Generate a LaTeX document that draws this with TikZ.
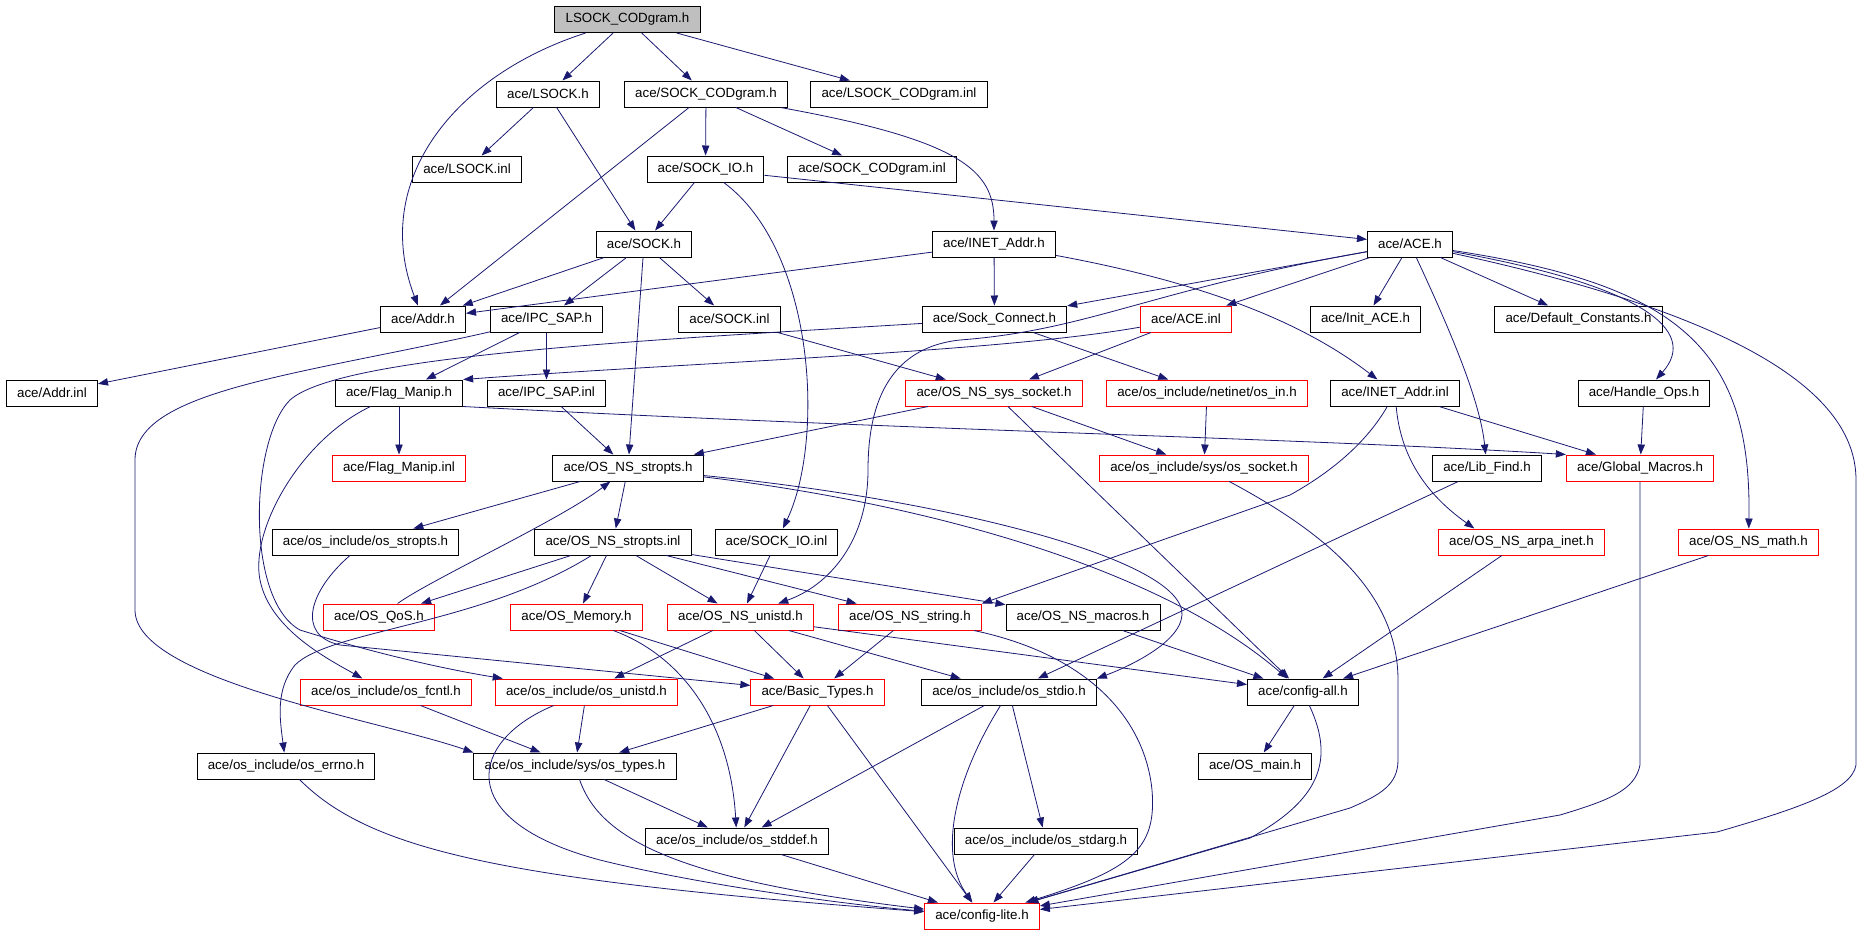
\documentclass[tikz,border=0pt]{standalone}
\usepackage{fontspec}
\setmainfont{Liberation Sans}
\usetikzlibrary{arrows.meta}

\begin{document}
\begin{tikzpicture}[
        >={Triangle[length=7.5pt,width=5.5pt]},
        % one unit is one pixel of the include graph, y runs down
        x=0.75pt, y=-0.75pt,
        font=\fontsize{10}{12}\selectfont
    ]
        % Define custom colors matching the doxygen graph
        \definecolor{edgeblue}{RGB}{25,25,112}
        \definecolor{rootgray}{RGB}{191,191,191}
        \definecolor{incred}{RGB}{255,0,0}

        % Define node styles
        \tikzstyle{file}=[
            draw,
            line width=0.75pt,
            inner xsep=8pt,
            inner ysep=0pt,
            minimum height=19.5pt
        ]
        \tikzstyle{redfile}=[file, draw=incred]
        \tikzstyle{dep}=[->, draw=edgeblue, line width=0.6pt]

        \useasboundingbox (0,0) rectangle (1875,933);

        % --- Rank 0 (the file itself) ---
        \node[file, fill=rootgray] (root) at (627.5,19.5) {LSOCK\_CODgram.h};

        % --- Rank 1 ---
        \node[file] (LSOCKh) at (548,94) {ace/LSOCK.h};
        \node[file] (SCh) at (706,94) {ace/SOCK\_CODgram.h};
        \node[file] (LSCinl) at (899,94) {ace/LSOCK\_CODgram.inl};

        % --- Rank 2 ---
        \node[file] (LSOCKinl) at (467,169) {ace/LSOCK.inl};
        \node[file] (SIOh) at (705.5,169) {ace/SOCK\_IO.h};
        \node[file] (SCinl) at (872,169) {ace/SOCK\_CODgram.inl};

        % --- Rank 3 ---
        \node[file] (SOCKh) at (644,244) {ace/SOCK.h};
        \node[file] (INETh) at (994,244) {ace/INET\_Addr.h};
        \node[file] (ACEh) at (1410,244) {ace/ACE.h};

        % --- Rank 4 ---
        \node[file] (Addrh) at (423,319) {ace/Addr.h};
        \node[file] (IPCh) at (546.5,319) {ace/IPC\_SAP.h};
        \node[file] (SOCKinl) at (729.5,319) {ace/SOCK.inl};
        \node[file] (SockConn) at (994.5,319) {ace/Sock\_Connect.h};
        \node[redfile] (ACEinl) at (1186,319) {ace/ACE.inl};
        \node[file] (InitACE) at (1365.5,319) {ace/Init\_ACE.h};
        \node[file] (DefConst) at (1578.5,319) {ace/Default\_Constants.h};

        % --- Rank 5 ---
        \node[file] (Addrinl) at (52,393) {ace/Addr.inl};
        \node[file] (FlagManip) at (399,393) {ace/Flag\_Manip.h};
        \node[file] (IPCinl) at (546.5,393) {ace/IPC\_SAP.inl};
        \node[redfile] (sysSocket) at (994,393) {ace/OS\_NS\_sys\_socket.h};
        \node[redfile] (osin) at (1207,393) {ace/os\_include/netinet/os\_in.h};
        \node[file] (INETinl) at (1395,393) {ace/INET\_Addr.inl};
        \node[file] (HandleOps) at (1644,393) {ace/Handle\_Ops.h};

        % --- Rank 6 ---
        \node[redfile] (FlagInl) at (399,468) {ace/Flag\_Manip.inl};
        \node[file] (stropts) at (628,468) {ace/OS\_NS\_stropts.h};
        \node[redfile] (ossocket) at (1204,468) {ace/os\_include/sys/os\_socket.h};
        \node[file] (LibFind) at (1487,468) {ace/Lib\_Find.h};
        \node[redfile] (GlobalMacros) at (1640,468) {ace/Global\_Macros.h};

        % --- Rank 7 ---
        \node[file] (osstropts) at (365.5,542) {ace/os\_include/os\_stropts.h};
        \node[file] (stroptsinl) at (613,542) {ace/OS\_NS\_stropts.inl};
        \node[file] (SIOinl) at (776.5,542) {ace/SOCK\_IO.inl};
        \node[redfile] (arpa) at (1521.5,542) {ace/OS\_NS\_arpa\_inet.h};
        \node[redfile] (math) at (1748.5,542) {ace/OS\_NS\_math.h};

        % --- Rank 8 ---
        \node[redfile] (QoS) at (379,617) {ace/OS\_QoS.h};
        \node[redfile] (Memory) at (576.5,617) {ace/OS\_Memory.h};
        \node[redfile] (unistd) at (740.5,617) {ace/OS\_NS\_unistd.h};
        \node[redfile] (string) at (910,617) {ace/OS\_NS\_string.h};
        \node[file] (macros) at (1083,617) {ace/OS\_NS\_macros.h};

        % --- Rank 9 ---
        \node[redfile] (fcntl) at (386,692) {ace/os\_include/os\_fcntl.h};
        \node[redfile] (osunistd) at (586.5,692) {ace/os\_include/os\_unistd.h};
        \node[redfile] (BasicTypes) at (817.5,692) {ace/Basic\_Types.h};
        \node[file] (stdio) at (1009,692) {ace/os\_include/os\_stdio.h};
        \node[file] (configall) at (1303,692) {ace/config-all.h};

        % --- Rank 10 ---
        \node[file] (errno) at (286,766) {ace/os\_include/os\_errno.h};
        \node[file] (ostypes) at (575,766) {ace/os\_include/sys/os\_types.h};
        \node[file] (OSmain) at (1255,766) {ace/OS\_main.h};

        % --- Rank 11 ---
        \node[file] (stddef) at (737,841) {ace/os\_include/os\_stddef.h};
        \node[file] (stdarg) at (1046,841) {ace/os\_include/os\_stdarg.h};

        % --- Rank 12 ---
        \node[redfile] (configlite) at (982,916) {ace/config-lite.h};

        % --- Includes of LSOCK_CODgram.h ---
        \draw[dep] (root) .. controls (455,75) and (370,180) .. (Addrh);
        \draw[dep] (root) -- (LSOCKh);
        \draw[dep] (root) -- (SCh);
        \draw[dep] (root) -- (LSCinl);

        % --- ace/LSOCK.h and ace/SOCK_CODgram.h ---
        \draw[dep] (LSOCKh) -- (LSOCKinl);
        \draw[dep] (LSOCKh) -- (SOCKh);
        \draw[dep] (SCh) -- (Addrh);
        \draw[dep] (SCh) -- (SIOh);
        \draw[dep] (SCh) -- (SCinl);
        \draw[dep] (SCh) .. controls (960,140) and (994,170) .. (INETh);

        % --- ace/SOCK_IO.h ---
        \draw[dep] (SIOh) -- (SOCKh);
        \draw[dep] (SIOh) -- (ACEh);
        \draw[dep] (SIOh) .. controls (815,250) and (825,440) .. (SIOinl);

        % --- ace/SOCK.h ---
        \draw[dep] (SOCKh) -- (Addrh);
        \draw[dep] (SOCKh) -- (IPCh);
        \draw[dep] (SOCKh) -- (SOCKinl);
        \draw[dep] (SOCKh) -- (stropts);

        % --- ace/INET_Addr.h ---
        \draw[dep] (INETh) -- (Addrh);
        \draw[dep] (INETh) -- (SockConn);
        \draw[dep] (INETh) .. controls (1200,282) and (1300,320) .. (INETinl);

        % --- ace/ACE.h ---
        \draw[dep] (ACEh) -- (SockConn);
        \draw[dep] (ACEh) -- (ACEinl);
        \draw[dep] (ACEh) -- (InitACE);
        \draw[dep] (ACEh) -- (DefConst);
        \draw[dep] (ACEh) .. controls (1450,330) and (1480,400) .. (LibFind);
        \draw[dep] (ACEh) .. controls (1640,285) and (1700,330) .. (HandleOps);
        \draw[dep] (ACEh) .. controls (1680,285) and (1752,350) .. (math);
        \draw[dep] (ACEh) .. controls (1760,320) and (1856,400) .. (1856,480)
            -- (1856,765) .. controls (1852,790) and (1800,808) .. (1717,832) -- (configlite);
        \draw[dep] (ACEh) .. controls (1150,290) and (1090,330) .. (960,340)
            .. controls (885,348) and (868,410) .. (868,470)
            .. controls (868,540) and (830,585) .. (unistd);

        % --- Rank 4 sources ---
        \draw[dep] (Addrh) -- (Addrinl);
        \draw[dep] (IPCh) -- (FlagManip);
        \draw[dep] (IPCh) -- (IPCinl);
        \draw[dep] (IPCh) .. controls (300,375) and (135,390) .. (135,460)
            -- (135,610) .. controls (135,680) and (380,720) .. (ostypes.north west);
        \draw[dep] (SOCKinl) -- (sysSocket);
        \draw[dep] (SockConn) -- (osin);
        \draw[dep] (SockConn) .. controls (650,340) and (340,355) .. (290,400)
            .. controls (250,440) and (245,600) .. (300,630)
            .. controls (380,655) and (450,670) .. (osunistd);
        \draw[dep] (ACEinl) -- (sysSocket);
        \draw[dep] (ACEinl) .. controls (1000,352) and (700,362) .. (FlagManip.north east);

        % --- Rank 5 sources ---
        \draw[dep] (FlagManip) -- (FlagInl);
        \draw[dep] (FlagManip.south east) .. controls (900,430) and (1300,438) .. (GlobalMacros.north west);
        \draw[dep] (FlagManip) .. controls (300,440) and (250,530) .. (260,580)
            .. controls (270,630) and (330,660) .. (fcntl);
        \draw[dep] (IPCinl) -- (stropts);
        \draw[dep] (sysSocket) -- (stropts);
        \draw[dep] (sysSocket) -- (ossocket);
        \draw[dep] (sysSocket) -- (configall);
        \draw[dep] (osin) -- (ossocket);
        \draw[dep] (INETinl) -- (GlobalMacros);
        \draw[dep] (INETinl) .. controls (1400,450) and (1420,490) .. (arpa.164);
        \draw[dep] (INETinl) .. controls (1368,440) and (1335,470) .. (1290,495) -- (string.north east);
        \draw[dep] (HandleOps) -- (GlobalMacros);

        % --- Rank 6 sources ---
        \draw[dep] (LibFind) -- (stdio);
        \draw[dep] (GlobalMacros) -- (1640,765) .. controls (1635,790) and (1610,800) .. (1560,815) -- (configlite);
        \draw[dep] (stropts) -- (osstropts);
        \draw[dep] (stropts) -- (stroptsinl);
        \draw[dep] (stropts) .. controls (900,500) and (1150,560) .. (configall);
        \draw[dep] (stropts) .. controls (950,500) and (1185,560) .. (1182,615)
            .. controls (1180,645) and (1120,670) .. (stdio.north east);
        \draw[dep] (ossocket) .. controls (1320,530) and (1398,590) .. (1398,680)
            -- (1398,760) .. controls (1398,785) and (1380,795) .. (1350,808) -- (configlite);

        % --- Rank 7 sources ---
        \draw[dep] (stroptsinl) -- (QoS);
        \draw[dep] (stroptsinl) -- (Memory);
        \draw[dep] (stroptsinl) -- (unistd);
        \draw[dep] (stroptsinl) -- (string);
        \draw[dep] (stroptsinl) -- (macros);
        \draw[dep] (stroptsinl) .. controls (480,625) and (330,630) .. (295,665)
            .. controls (275,690) and (280,720) .. (errno);
        \draw[dep] (osstropts) .. controls (310,590) and (295,635) .. (340,645) -- (BasicTypes);
        \draw[dep] (SIOinl) -- (unistd);
        \draw[dep] (arpa) -- (configall);
        \draw[dep] (math) -- (configall);

        % --- Rank 8 sources ---
        \draw[dep] (QoS) .. controls (430,580) and (560,520) .. (stropts);
        \draw[dep] (Memory) -- (BasicTypes);
        \draw[dep] (Memory) .. controls (680,655) and (730,720) .. (stddef);
        \draw[dep] (unistd) -- (osunistd);
        \draw[dep] (unistd) -- (BasicTypes);
        \draw[dep] (unistd) -- (stdio);
        \draw[dep] (unistd) -- (configall);
        \draw[dep] (string) -- (BasicTypes);
        \draw[dep] (string) .. controls (1090,655) and (1145,720) .. (1152,790)
            .. controls (1157,850) and (1130,870) .. (configlite);
        \draw[dep] (macros) -- (configall);

        % --- Rank 9 sources ---
        \draw[dep] (fcntl) -- (ostypes);
        \draw[dep] (osunistd) -- (ostypes);
        \draw[dep] (osunistd) .. controls (470,740) and (450,820) .. (600,860)
            .. controls (700,885) and (850,905) .. (configlite);
        \draw[dep] (BasicTypes) -- (ostypes);
        \draw[dep] (BasicTypes) -- (stddef);
        \draw[dep] (BasicTypes) -- (configlite);
        \draw[dep] (stdio) -- (stddef);
        \draw[dep] (stdio) .. controls (960,770) and (935,850) .. (configlite);
        \draw[dep] (stdio) -- (stdarg);
        \draw[dep] (configall) -- (OSmain);
        \draw[dep] (configall) .. controls (1335,760) and (1320,800) .. (1250,838) -- (configlite);

        % --- Rank 10 and 11 sources ---
        \draw[dep] (errno) .. controls (370,850) and (500,880) .. (configlite);
        \draw[dep] (ostypes) -- (stddef);
        \draw[dep] (ostypes) .. controls (600,840) and (680,880) .. (configlite);
        \draw[dep] (stddef) -- (configlite);
        \draw[dep] (stdarg) -- (configlite);

    \end{tikzpicture}
\end{document}
